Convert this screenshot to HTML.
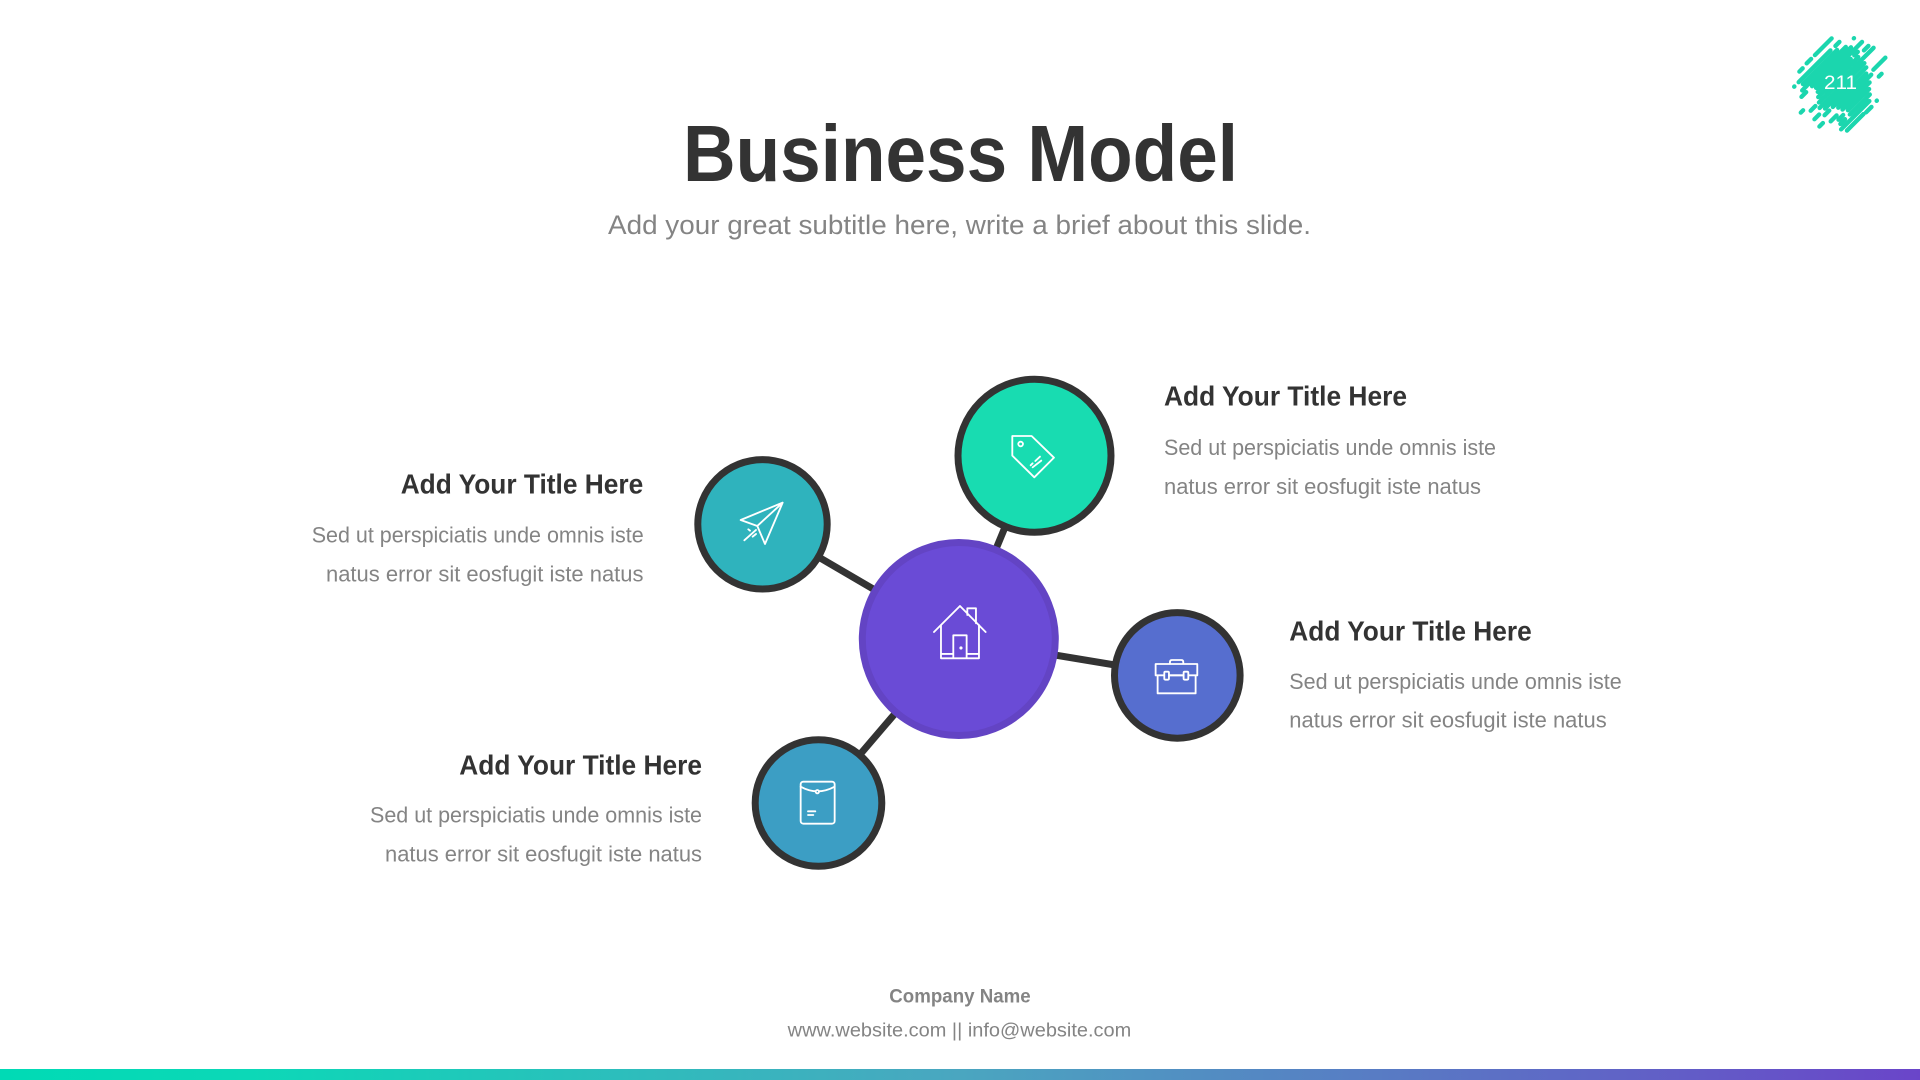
<!DOCTYPE html>
<html>
<head>
<meta charset="utf-8">
<title>Business Model</title>
<style>
html,body{margin:0;padding:0;background:#fff;width:1920px;height:1080px;overflow:hidden}
svg{display:block}
text{font-family:"Liberation Sans",sans-serif}
.h{font-weight:700;font-size:28px;fill:#333}
.b{font-size:22.5px;fill:#848484}
.i{fill:none;stroke:#fff;stroke-width:5.5;stroke-linecap:round;stroke-linejoin:round}
</style>
</head>
<body>
<svg width="1920" height="1080" viewBox="0 0 1920 1080" xmlns="http://www.w3.org/2000/svg">
<defs>
<linearGradient id="g" x1="0" y1="0" x2="1" y2="0">
<stop offset="0" stop-color="#00dab5"/><stop offset=".13" stop-color="#0cd8b7"/>
<stop offset=".5" stop-color="#4aa6c0"/><stop offset="1" stop-color="#6a45c9"/>
</linearGradient>
</defs>
<rect width="1920" height="1080" fill="#fff"/>

<!-- badge -->
<g transform="translate(1760,20) scale(.3333) rotate(-45)" stroke="#1bd6ae" stroke-width="13" stroke-linecap="round" fill="none">
<path d="M7,191H26M42,191H113M-26,193H-12M-69,214H-68M-50,214H85M105,215H122M-45,227H100M-60,239H-40M-35,239H125M160,238H161M-75,251H-55M-30,251H135M-25,263H170M-30,275H110M125,275H140M-40,287H130M156,285H175M-110,283H-100M-85,300H-65M-50,300H182M-60,313H130M-95,326H-75M-50,326H125M-65,339H-45M-30,339H112M135,346H186M-100,352H-85M-20,352H120M-65,365H-40M-15,365H100M132,372H144M-45,378H-25M-5,378H85M-50,391H-30M-10,391H75M-60,404H60M-50,419H20M29,421H52M76,419H77"/>
</g>
<text x="1824" y="89" font-size="19.5" fill="#fff" textLength="33" lengthAdjust="spacingAndGlyphs">211</text>

<!-- title -->
<text x="683" y="181" font-size="80" font-weight="700" fill="#333" textLength="555" lengthAdjust="spacingAndGlyphs">Business Model</text>
<text x="608" y="234" font-size="27" fill="#848484" textLength="703" lengthAdjust="spacingAndGlyphs">Add your great subtitle here, write a brief about this slide.</text>

<!-- connectors -->
<g stroke="#333" stroke-width="7">
<line x1="958.8" y1="639" x2="1034.5" y2="455.8"/>
<line x1="958.8" y1="639" x2="762.5" y2="524.3"/>
<line x1="958.8" y1="639" x2="1177.3" y2="675.4"/>
<line x1="958.8" y1="639" x2="818.5" y2="803"/>
</g>

<!-- circles -->
<circle cx="958.8" cy="639" r="96.5" fill="#6a4bd6" stroke="#6344c4" stroke-width="7"/>
<circle cx="1034.5" cy="455.8" r="76.5" fill="#18dcb1" stroke="#333" stroke-width="7"/>
<circle cx="762.5" cy="524.3" r="64.7" fill="#2fb3bd" stroke="#333" stroke-width="7"/>
<circle cx="1177.3" cy="675.4" r="62.8" fill="#566ecf" stroke="#333" stroke-width="7"/>
<circle cx="818.5" cy="803" r="63.3" fill="#3c9ec4" stroke="#333" stroke-width="7"/>

<!-- icons -->
<g transform="translate(680,360) scale(.3333)" class="i">
<!-- tag -->
<path d="M997,228H1055L1122,293L1063,352L997,287Z"/>
<circle cx="1022" cy="252" r="7"/>
<path d="M1066,303L1080,290M1058,322L1084,302M1052,316L1058,310"/>
<!-- plane -->
<path d="M182,480L308,428L255,552L232,498ZM232,498L308,428M193,541L228,510M205,508L210,512M218,530L228,522"/>
<!-- house -->
<path d="M762,816L840,738L917,816M862,765V745H888V790M783,795V895H897V795M820,895V826H860V895M783,882H820M860,882H897"/>
<circle cx="843" cy="864" r="2" fill="#fff"/>
</g>
<g transform="translate(740,640) scale(.3333)" class="i">
<!-- briefcase -->
<path d="M1247,72H1372V106H1247ZM1253,106V160H1367V106M1290,72V66Q1290,60 1296,60H1324Q1330,60 1330,66V72"/>
<rect x="1273" y="95" width="14" height="24" rx="3" fill="#566ecf"/>
<rect x="1331" y="95" width="14" height="24" rx="3" fill="#566ecf"/>
<path d="M1287,106H1331"/>
<!-- envelope -->
<rect x="182" y="425" width="102" height="126" rx="8"/>
<path d="M182,440Q232,468 284,440"/>
<circle cx="232" cy="455" r="5" fill="#3c9ec4"/>
<path d="M204,514H226M204,525H220"/>
</g>

<!-- labels -->
<text class="h" x="1164" y="405.3" textLength="243" lengthAdjust="spacingAndGlyphs">Add Your Title Here</text>
<text class="b" x="1164" y="455" textLength="332" lengthAdjust="spacingAndGlyphs">Sed ut perspiciatis unde omnis iste</text>
<text class="b" x="1164" y="494" textLength="317" lengthAdjust="spacingAndGlyphs">natus error sit eosfugit iste natus</text>

<text class="h" x="400.7" y="493.3" textLength="242.6" lengthAdjust="spacingAndGlyphs">Add Your Title Here</text>
<text class="b" x="311.7" y="542.7" textLength="332" lengthAdjust="spacingAndGlyphs">Sed ut perspiciatis unde omnis iste</text>
<text class="b" x="326" y="581.3" textLength="317.5" lengthAdjust="spacingAndGlyphs">natus error sit eosfugit iste natus</text>

<text class="h" x="1289.3" y="640.3" textLength="242.4" lengthAdjust="spacingAndGlyphs">Add Your Title Here</text>
<text class="b" x="1289.3" y="689" textLength="332.4" lengthAdjust="spacingAndGlyphs">Sed ut perspiciatis unde omnis iste</text>
<text class="b" x="1289.3" y="727.7" textLength="317.4" lengthAdjust="spacingAndGlyphs">natus error sit eosfugit iste natus</text>

<text class="h" x="459.3" y="774.3" textLength="242.7" lengthAdjust="spacingAndGlyphs">Add Your Title Here</text>
<text class="b" x="370" y="822.7" textLength="332" lengthAdjust="spacingAndGlyphs">Sed ut perspiciatis unde omnis iste</text>
<text class="b" x="385" y="861.3" textLength="317" lengthAdjust="spacingAndGlyphs">natus error sit eosfugit iste natus</text>

<!-- footer -->
<text x="889.3" y="1002.7" font-size="19" font-weight="700" fill="#848484" textLength="141.4" lengthAdjust="spacingAndGlyphs">Company Name</text>
<text x="787.7" y="1036.3" font-size="19.5" fill="#848484" textLength="343.6" lengthAdjust="spacingAndGlyphs">www.website.com || info@website.com</text>

<rect x="0" y="1069" width="1920" height="11" fill="url(#g)"/>
</svg>
</body>
</html>
